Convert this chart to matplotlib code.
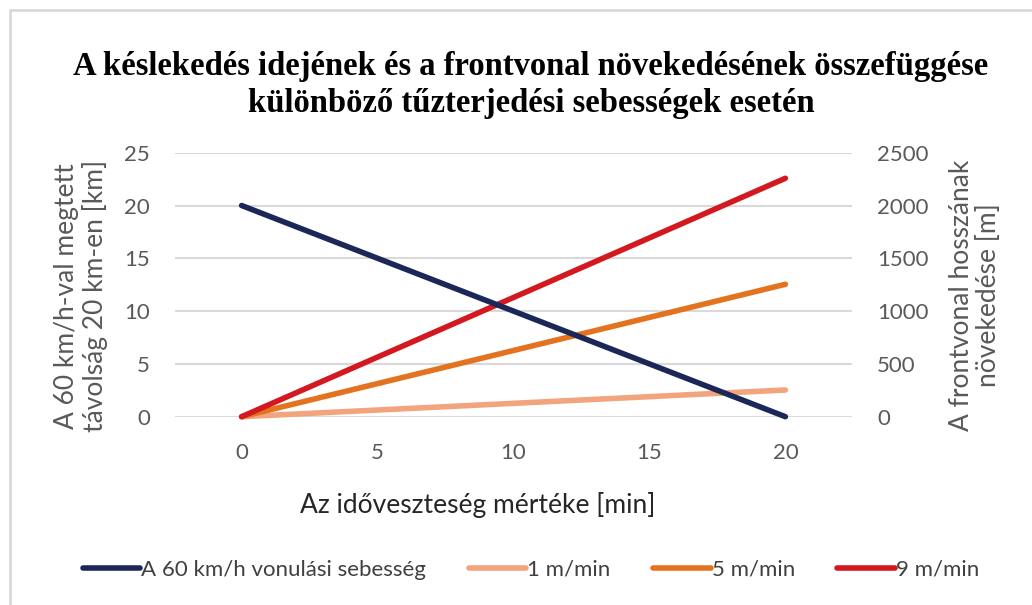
import matplotlib
matplotlib.use("Agg")
import matplotlib.pyplot as plt
from matplotlib.patches import Rectangle
from matplotlib.lines import Line2D

# Data
x_minutes = [0, 20]
speed_60kmh = [20, 0]          # left axis [km]
front_1 = [0, 253]             # right axis [m]
front_5 = [0, 1254]
front_9 = [0, 2258]

series_names = ["A 60 km/h vonulási sebesség", "1 m/min", "5 m/min", "9 m/min"]
colors = ["#1B2757", "#F2A47C", "#E3731E", "#D4181F"]

x_ticks = [0, 5, 10, 15, 20]
left_ticks = [0, 5, 10, 15, 20, 25]
right_ticks = [0, 500, 1000, 1500, 2000, 2500]

title = ("A késlekedés idejének és a frontvonal növekedésének összefüggése\n"
         "különböző tűzterjedési sebességek esetén")

W, H = 1032, 605
fig = plt.figure(figsize=(W / 100, H / 100), dpi=100)
fig.patch.set_facecolor("white")

# outer chart frame
fig.add_artist(Rectangle((10 / W, -0.05), 1.2, 1 - 10 / H + 0.05, transform=fig.transFigure,
                         fill=False, edgecolor="#D9D9D9", lw=2.0))

left, right = 175 / W, 852 / W
bottom, top = 1 - 416.7 / H, 1 - 152.7 / H
ax = fig.add_axes([left, bottom, right - left, top - bottom])
ax2 = ax.twinx()

grid_c = "#D9D9D9"
tick_c = "#595959"
font = "Lato"

ax.set_xlim(-2.45, 22.45)
ax.set_ylim(0, 25)
ax2.set_ylim(0, 2500)
for a in (ax, ax2):
    for s in a.spines.values():
        s.set_visible(False)
    a.tick_params(length=0)

ax.set_yticks(left_ticks)
ax.set_xticks(x_ticks)
ax2.set_yticks(right_ticks)
ax.yaxis.grid(True, color=grid_c, lw=1.5)
ax.set_axisbelow(True)

ax.tick_params(axis="y", pad=18, labelsize=16, labelcolor=tick_c)
ax.tick_params(axis="x", pad=19, labelsize=16, labelcolor=tick_c)
ax2.tick_params(axis="y", pad=18, labelsize=16, labelcolor=tick_c)
for lbl in ax.get_xticklabels() + ax.get_yticklabels() + ax2.get_yticklabels():
    lbl.set_fontfamily(font)

lw = 4.0
ax2.plot(x_minutes, front_1, color=colors[1], lw=lw, solid_capstyle="round", clip_on=False)
ax2.plot(x_minutes, front_5, color=colors[2], lw=lw, solid_capstyle="round", clip_on=False)
ax2.plot(x_minutes, front_9, color=colors[3], lw=lw, solid_capstyle="round", clip_on=False)
ax2.plot(x_minutes, [v * 100 for v in speed_60kmh], color=colors[0], lw=lw,
         solid_capstyle="round", clip_on=False)

fig.text(531 / W, 1 - 85 / H, title, ha="center", va="center", family="Liberation Serif",
         fontweight="bold", fontsize=23.5, linespacing=1.25, color="black")

fig.text(81 / W, 1 - 296 / H, "A 60 km/h-val megtett\ntávolság 20 km-en [km]",
         rotation=90, ha="center", va="center", family=font, fontsize=19,
         color=tick_c, linespacing=1.1)
fig.text(975 / W, 1 - 295 / H, "A frontvonal hosszának\nnövekedése [m]",
         rotation=90, ha="center", va="center", family=font, fontsize=19,
         color=tick_c, linespacing=1.1)
fig.text(478 / W, 1 - 505 / H, "Az időveszteség mértéke [min]", ha="center", va="center",
         family=font, fontsize=19, color="#262626")

handles = [Line2D([], [], color=c, lw=lw, solid_capstyle="round") for c in colors]
leg = fig.legend(handles, series_names, loc="center", bbox_to_anchor=(531 / W, 1 - 570 / H),
                 ncol=4, frameon=False, handlelength=2.6, handletextpad=0.05,
                 columnspacing=1.9, prop={"family": font, "size": 16})
for t in leg.get_texts():
    t.set_color("#404040")

fig.savefig("out.png", dpi=100)
